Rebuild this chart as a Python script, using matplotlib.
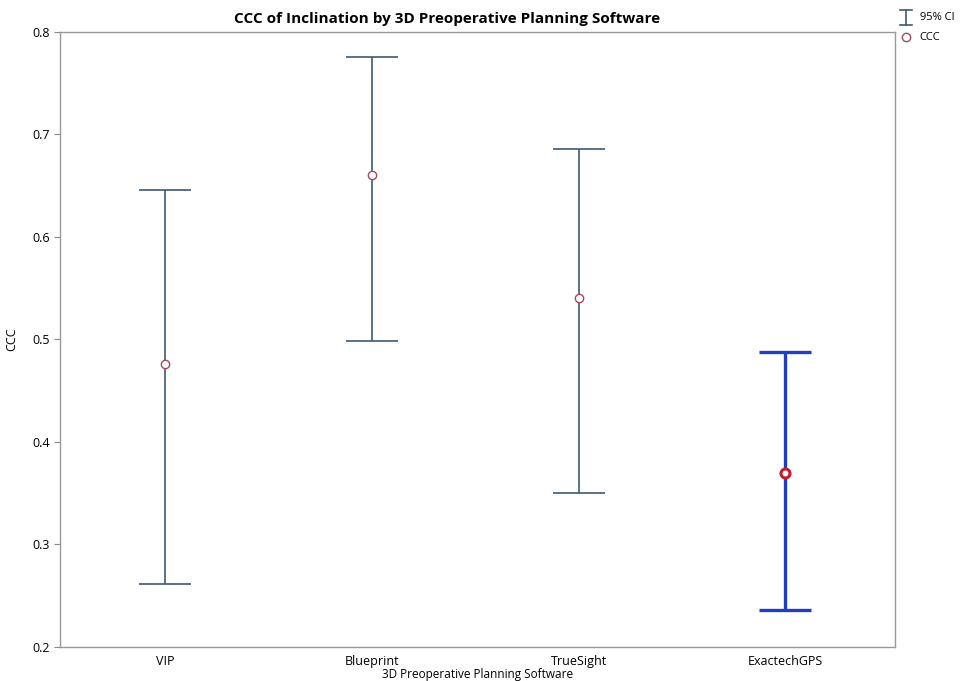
import matplotlib.pyplot as plt

# CCC of inclination per planning software, with 95% CI
software = ['VIP', 'Blueprint', 'TrueSight', 'ExactechGPS']
ccc = [0.476, 0.660, 0.540, 0.370]
ci_low = [0.261, 0.499, 0.350, 0.236]
ci_high = [0.646, 0.776, 0.686, 0.488]

plt.rcParams['font.family'] = ['Open Sans', 'DejaVu Sans']

fig = plt.figure(figsize=(9.65, 6.81), dpi=100)
ax = fig.add_axes([0.0622, 0.05, 0.8653, 0.903])

for i, name in enumerate(software):
    highlight = name == 'ExactechGPS'
    col = '#1f3fbf' if highlight else '#3e5a72'
    lw = 2.4 if highlight else 1.2
    err = [[ccc[i] - ci_low[i]], [ci_high[i] - ccc[i]]]
    ax.errorbar(i, ccc[i], yerr=err, fmt='none', ecolor=col, elinewidth=lw,
                capsize=19, capthick=lw, zorder=2)
    ax.plot(i, ccc[i], 'o', ms=6.5 if highlight else 6, mfc='white',
            mec='#c0202e' if highlight else '#a3495a',
            mew=2.2 if highlight else 1.0, zorder=3)

ax.set_xlim(-0.51, 3.53)
ax.set_ylim(0.2, 0.8)
ax.set_xticks(range(len(software)))
ax.set_xticklabels(software)
ax.set_yticks([0.2, 0.3, 0.4, 0.5, 0.6, 0.7, 0.8])
ax.tick_params(axis='both', labelsize=9, color='#888888', length=4)
ax.tick_params(axis='x', length=0, pad=6)
for s in ax.spines.values():
    s.set_color('#999999')
    s.set_linewidth(1.0)

ax.set_xlabel('3D Preoperative Planning Software', fontsize=8.5, labelpad=0)
ax.set_ylabel('CCC', fontsize=9, labelpad=10)
fig.text(0.463, 0.972, 'CCC of Inclination by 3D Preoperative Planning Software',
         ha='center', va='center', fontsize=11, fontweight='bold')

# legend outside top right
lx, ly1, ly2 = 0.939, 0.974, 0.945
legend_col = '#3e5a72'
fig.add_artist(plt.Line2D([lx, lx], [ly1 - 0.011, ly1 + 0.011], transform=fig.transFigure,
                          color=legend_col, lw=1.2))
for yy in (ly1 - 0.011, ly1 + 0.011):
    fig.add_artist(plt.Line2D([lx - 0.006, lx + 0.006], [yy, yy], transform=fig.transFigure,
                              color=legend_col, lw=1.2))
fig.text(0.953, ly1, '95% CI', fontsize=8, ha='left', va='center')
fig.add_artist(plt.Line2D([lx], [ly2], transform=fig.transFigure, marker='o',
                          ms=6, mfc='white', mec='#a3495a', mew=1.0))
fig.text(0.953, ly2, 'CCC', fontsize=8, ha='left', va='center')

fig.savefig('out.png', dpi=100)
